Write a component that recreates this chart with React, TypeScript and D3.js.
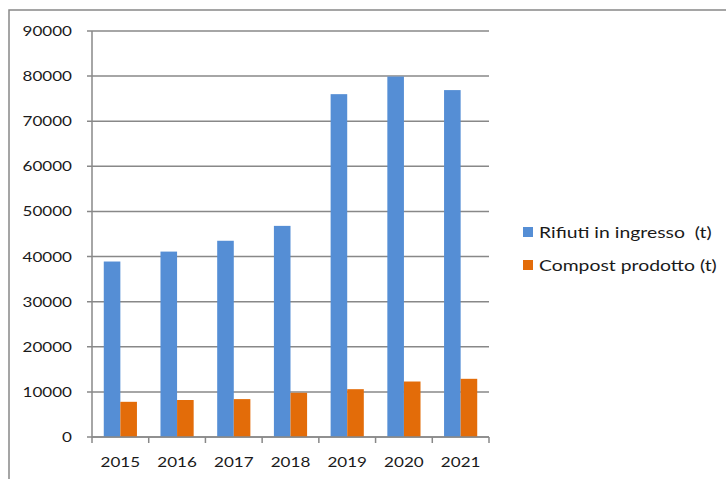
import React from "react";
import * as d3 from "d3";

const years = ["2015", "2016", "2017", "2018", "2019", "2020", "2021"];
const rifiuti = [38900, 41100, 43500, 46800, 76000, 79900, 76900];
const compost = [7800, 8200, 8400, 9800, 10600, 12300, 12900];
const seriesNames = ["Rifiuti in ingresso  (t)", "Compost prodotto (t)"];
const yTicks = [0, 10000, 20000, 30000, 40000, 50000, 60000, 70000, 80000, 90000];

const W = 726;
const H = 479;
const plot = { left: 92, right: 489, top: 31, bottom: 437 };
const colors = ["#558ED5", "#E36C09"];
const gridColor = "#888888";
const FONT = "Lato, 'Open Sans', sans-serif";

function T({ x, y, anchor, size, sx, children }: any) {
  return (
    <g transform={`translate(${x},${y}) scale(${sx},1)`}>
      <text textAnchor={anchor} fontSize={size} fontFamily={FONT} fill="#1a1a1a" style={{ whiteSpace: "pre" }}>
        {children}
      </text>
    </g>
  );
}

export default function App() {
  const x = d3.scaleBand<string>().domain(years).range([plot.left, plot.right]);
  const y = d3.scaleLinear().domain([0, 90000]).range([plot.bottom, plot.top]);
  const groupW = x.bandwidth() * 0.585;
  const barW = groupW / 2;
  const series = [rifiuti, compost];

  return (
    <svg width={W} height={H} style={{ position: "absolute", left: 0, top: 0, background: "#fff" }}>
      <rect x={0} y={0} width={W} height={H} fill="#fff" />
      <path d={`M9,${H} L9,10 L${W},10`} fill="none" stroke={gridColor} strokeWidth={1.5} />
      {yTicks.map((t) => (
        <line key={t} x1={plot.left - 5} x2={plot.right} y1={y(t)} y2={y(t)} stroke={gridColor} strokeWidth={1.5} />
      ))}
      <line x1={plot.left} x2={plot.left} y1={plot.top} y2={plot.bottom} stroke={gridColor} strokeWidth={1.5} />
      {series.map((vals, si) =>
        vals.map((v, i) => {
          const x0 = (x(years[i]) as number) + (x.bandwidth() - groupW) / 2 + si * barW;
          return (
            <rect key={`${si}-${i}`} x={x0} y={y(v)} width={barW} height={y(0) - y(v)} fill={colors[si]} />
          );
        })
      )}
      <line x1={plot.left} x2={plot.right} y1={plot.bottom} y2={plot.bottom} stroke={gridColor} strokeWidth={1.5} />
      {years.map((yr) => (
        <line key={yr} x1={x(yr) as number} x2={x(yr) as number} y1={plot.bottom} y2={plot.bottom + 6} stroke={gridColor} strokeWidth={1.5} />
      ))}
      <line x1={plot.right} x2={plot.right} y1={plot.bottom} y2={plot.bottom + 6} stroke={gridColor} strokeWidth={1.5} />
      {yTicks.map((t) => (
        <T key={t} x={72} y={y(t) + 5} anchor="end" size={14} sx={1.22}>
          {String(t)}
        </T>
      ))}
      {years.map((yr) => (
        <T key={yr} x={(x(yr) as number) + x.bandwidth() / 2} y={467} anchor="middle" size={14} sx={1.22}>
          {yr}
        </T>
      ))}
      {seriesNames.map((n, i) => (
        <g key={n}>
          <rect x={523} y={227 + i * 33} width={10} height={10} fill={colors[i]} />
          <T x={539} y={238 + i * 33} anchor="start" size={16} sx={1.21}>
            {n}
          </T>
        </g>
      ))}
    </svg>
  );
}
